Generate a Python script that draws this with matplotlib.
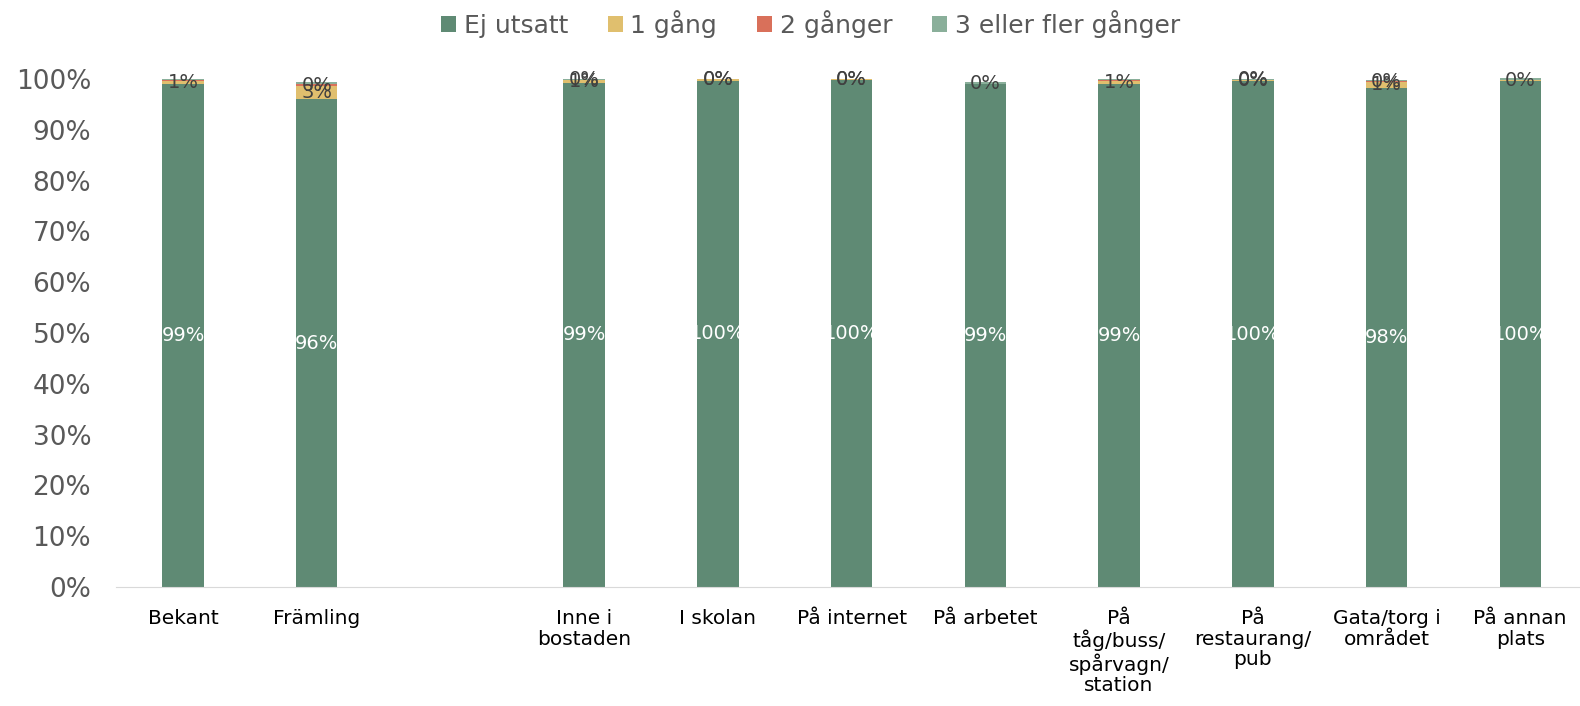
import numpy as np
import matplotlib.pyplot as plt

categories = ["Bekant", "Främling", "", "Inne i\nbostaden", "I skolan", "På internet",
              "På arbetet", "På\ntåg/buss/\nspårvagn/\nstation", "På\nrestaurang/\npub",
              "Gata/torg i\nområdet", "På annan\nplats"]
series = ["Ej utsatt", "1 gång", "2 gånger", "3 eller fler gånger"]
ej_utsatt = [99.0, 96.0, np.nan, 99.3, 99.7, 99.8, 99.0, 99.0, 99.6, 98.3, 99.6]
en_gang = [0.6, 2.6, np.nan, 0.5, 0.3, 0.2, 0.0, 0.6, 0.3, 1.1, 0.3]
tva_ganger = [0.3, 0.4, np.nan, 0.1, 0.0, 0.0, 0.0, 0.3, 0.0, 0.3, 0.0]
tre_fler = [0.1, 0.4, np.nan, 0.1, 0.0, 0.0, 0.4, 0.1, 0.1, 0.2, 0.2]
# labels shown per segment (None = no label)
lbl_en = ["1%", "3%", None, "1%", "0%", "0%", None, "1%", "0%", "1%", "0%"]
lbl_tva = [None, "0%", None, "0%", "0%", "0%", None, None, "0%", "0%", None]
lbl_tre = [None, None, None, None, None, None, "0%", None, None, None, None]

COLORS = ["#5F8A74", "#E0BF6E", "#D9705A", "#8AAF9A"]
GREY = "#595959"

fig = plt.figure(figsize=(15.8, 7.06), dpi=100)
ax = fig.add_axes([0.0735, 0.1686, 0.931, 0.7195])

x = np.arange(len(categories))
width = 0.31
bottom = np.zeros(len(categories))
data = [ej_utsatt, en_gang, tva_ganger, tre_fler]
for vals, name, col in zip(data, series, COLORS):
    v = np.nan_to_num(np.array(vals, dtype=float))
    ax.bar(x, v, width, bottom=bottom, color=col, label=name, clip_on=False)
    bottom = bottom + v

# data labels
b = np.zeros(len(categories))
for seg, (vals, labels) in enumerate(zip(data, [None, lbl_en, lbl_tva, lbl_tre])):
    v = np.nan_to_num(np.array(vals, dtype=float))
    for i in range(len(categories)):
        if categories[i] == "":
            continue
        if seg == 0:
            ax.text(x[i], b[i] + v[i] / 2, f"{v[i]:.0f}%", ha="center", va="center",
                    color="white", fontsize=14)
        elif labels[i] is not None:
            ax.text(x[i], b[i] + v[i] / 2, labels[i], ha="center", va="center",
                    color="#404040", fontsize=14)
    b = b + v

ax.set_xlim(-0.5, len(categories) - 0.5)
ax.set_ylim(0, 100)
ax.set_yticks(np.arange(0, 101, 10))
ax.set_yticklabels([f"{t}%" for t in range(0, 101, 10)], fontsize=19, color=GREY)
ax.set_xticks(x)
ax.set_xticklabels(categories, fontsize=14.5, color="black", linespacing=1.1, va="top")
ax.tick_params(axis="both", length=0)
ax.tick_params(axis="x", pad=16)
ax.tick_params(axis="y", pad=18)
for s in ["top", "right", "left"]:
    ax.spines[s].set_visible(False)
ax.spines["bottom"].set_color("#D9D9D9")

fig.legend(*ax.get_legend_handles_labels(), loc="center", bbox_to_anchor=(0.513, 0.966),
           ncol=4, frameon=False, fontsize=18, labelcolor=GREY, handlelength=0.6,
           handleheight=0.6, handletextpad=0.3, columnspacing=1.6)

fig.savefig("out.png", dpi=100)
